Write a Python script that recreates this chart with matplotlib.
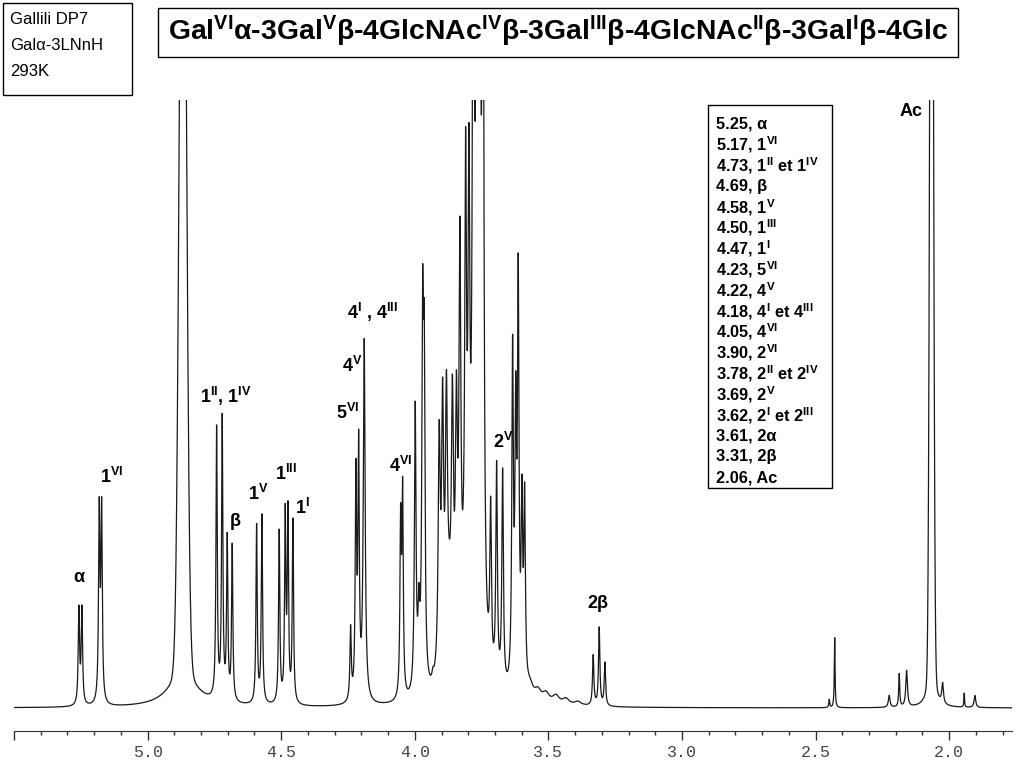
import numpy as np
import matplotlib.pyplot as plt
from matplotlib.patches import Rectangle
from matplotlib.ticker import MultipleLocator, FuncFormatter

plt.rcParams['font.family'] = ['Liberation Sans', 'DejaVu Sans']
plt.rcParams['mathtext.fontset'] = 'custom'
plt.rcParams['mathtext.rm'] = 'Liberation Sans'
plt.rcParams['mathtext.it'] = 'Liberation Sans:italic'
plt.rcParams['mathtext.bf'] = 'Liberation Sans:bold'

# resolved lines: shift (ppm), height, half width (ppm)
line_ppm = [5.2571, 5.2459, 5.1811, 5.1722,
            4.7418, 4.7208, 4.7021, 4.6834,
            4.5921, 4.5722, 4.5075, 4.4850, 4.4749, 4.4562,
            4.2403, 4.2204, 4.2103, 4.1894,
            4.0531, 4.0457, 3.9985, 3.9847, 3.9708, 3.9648, 3.9323,
            3.9087, 3.8960, 3.8817, 3.8593, 3.8443, 3.8312, 3.8099, 3.7975,
            3.7807, 3.7676, 3.7571, 3.7451,
            3.7163, 3.6939, 3.6714, 3.6340, 3.6224, 3.6130, 3.5992, 3.5891,
            3.5692, 3.5393, 3.5094, 3.4720, 3.4346, 3.3897,
            3.3324, 3.3099, 3.2886,
            2.4491, 2.4286, 2.2246, 2.1871, 2.1594, 2.0247, 1.9439, 1.9039,
            3.8000, 3.8720]
line_height = [95, 95, 190, 190,
               270, 280, 160, 155,
               178, 188, 172, 185, 187, 182,
               72, 220, 245, 360,
               170, 200, 285, 70, 345, 300, 8,
               230, 250, 240, 235, 225, 380, 415, 380,
               900, 1000, 900, 900,
               160, 215, 215, 330, 250, 395, 175, 185,
               12, 10, 9, 8, 6, 4,
               50, 78, 43,
               8, 70, 12, 33, 36, 20, 14, 12,
               90, 60]
line_width = [0.0030, 0.0030, 0.0030, 0.0030,
              0.0028, 0.0028, 0.0028, 0.0028,
              0.0028, 0.0028, 0.0028, 0.0028, 0.0028, 0.0028,
              0.0030, 0.0030, 0.0030, 0.0041,
              0.0030, 0.0030, 0.0035, 0.0040, 0.0035, 0.0035, 0.0040,
              0.0045, 0.0045, 0.0045, 0.0045, 0.0045, 0.0040, 0.0037, 0.0037,
              0.0037, 0.0037, 0.0037, 0.0037,
              0.0034, 0.0034, 0.0034, 0.0034, 0.0034, 0.0034, 0.0034, 0.0034,
              0.015, 0.015, 0.015, 0.015, 0.015, 0.015,
              0.0030, 0.0030, 0.0030,
              0.0019, 0.0017, 0.0037, 0.0022, 0.0037, 0.0037, 0.0015, 0.0037,
              0.030, 0.012]

# broad signals (HOD and N-acetyl methyl): shift, height, gaussian sigma, tail height, tail width
broad_ppm = [4.868, 2.066]
broad_height = [1000, 1200]
broad_sigma = [0.0124, 0.0060]
tail_height = [40, 60]
tail_width = [0.056, 0.0131]

# peak labels
label_text = [r'α', r'1$^{\mathbf{VI}}$', r'1$^{\mathbf{II}}$, 1$^{\mathbf{IV}}$', r'β',
              r'1$^{\mathbf{V}}$', r'1$^{\mathbf{III}}$', r'1$^{\mathbf{I}}$', r'5$^{\mathbf{VI}}$',
              r'4$^{\mathbf{V}}$', r'4$^{\mathbf{I}}$ , 4$^{\mathbf{III}}$', r'4$^{\mathbf{VI}}$',
              r'2$^{\mathbf{V}}$', r'2β', r'Ac']
label_ppm = [5.257, 5.134, 4.707, 4.673, 4.587, 4.482, 4.419, 4.250,
             4.235, 4.157, 4.052, 3.670, 3.315, 2.143]
label_y = [130, 231, 312, 186, 214, 234, 200, 295, 342, 396, 242, 266, 104, 596]

# assignment table
table_shift = [5.25, 5.17, 4.73, 4.69, 4.58, 4.50, 4.47, 4.23, 4.22, 4.18,
               4.05, 3.90, 3.78, 3.69, 3.62, 3.61, 3.31, 2.06]
table_assign = ['α', '1$^{\\mathbf{VI}}$', '1$^{\\mathbf{II}}$ et 1$^{\\mathbf{IV}}$', 'β',
                '1$^{\\mathbf{V}}$', '1$^{\\mathbf{III}}$', '1$^{\\mathbf{I}}$', '5$^{\\mathbf{VI}}$',
                '4$^{\\mathbf{V}}$', '4$^{\\mathbf{I}}$ et 4$^{\\mathbf{III}}$', '4$^{\\mathbf{VI}}$',
                '2$^{\\mathbf{VI}}$', '2$^{\\mathbf{II}}$ et 2$^{\\mathbf{IV}}$', '2$^{\\mathbf{V}}$',
                '2$^{\\mathbf{I}}$ et 2$^{\\mathbf{III}}$', '2α', '2β', 'Ac']

title = ('Gal$^{\\mathbf{VI}}$α-3Gal$^{\\mathbf{V}}$β-4GlcNAc$^{\\mathbf{IV}}$β-3Gal$^{\\mathbf{III}}$β-'
         '4GlcNAc$^{\\mathbf{II}}$β-3Gal$^{\\mathbf{I}}$β-4Glc')
info_lines = ['Gallili DP7', 'Galα-3LNnH', '293K']

# build spectrum from the line list
ppm = np.linspace(5.5, 1.765, 24000)
spec = np.zeros_like(ppm)
for c, h, w in zip(line_ppm, line_height, line_width):
    spec += h / (1 + ((ppm - c) / w) ** 2)
for c, h, s, th, tw in zip(broad_ppm, broad_height, broad_sigma, tail_height, tail_width):
    spec += h * np.exp(-0.5 * ((ppm - c) / s) ** 2) + th / (1 + ((ppm - c) / tw) ** 2)

W, H = 1024, 768
fig = plt.figure(figsize=(10.24, 7.68), dpi=100)
ax = fig.add_axes([14 / W, (H - 731) / H, (1012 - 14) / W, (731 - 100) / H])
ax.plot(ppm, spec, color='#1a1a1a', lw=0.9)
ax.set_xlim(5.5, 1.765)
ax.set_ylim(-23, 608)
for s in ['left', 'top', 'right']:
    ax.spines[s].set_visible(False)
ax.spines['bottom'].set_color('#333333')
ax.set_yticks([])
ax.xaxis.set_major_locator(MultipleLocator(0.5))
ax.xaxis.set_minor_locator(MultipleLocator(0.1))
ax.xaxis.set_major_formatter(FuncFormatter(lambda v, p: '' if v > 5.25 else '%.1f' % v))
ax.tick_params(axis='x', which='major', direction='out', length=6.3, width=1,
               color='#333333', pad=4, labelsize=12, labelcolor='#444444',
               labelfontfamily='Liberation Mono')
ax.tick_params(axis='x', which='minor', direction='out', length=2.7, width=1, color='#333333')

for t, x, y in zip(label_text, label_ppm, label_y):
    ax.text(x, y, t, ha='center', va='center', fontsize=13, fontweight='bold')

# assignment table box
fig.add_artist(Rectangle((708 / W, 1 - 488 / H), 124 / W, 383 / H, transform=fig.transFigure,
                         fill=False, edgecolor='black', lw=1))
for i, (s, a) in enumerate(zip(table_shift, table_assign)):
    fig.text(716 / W, 1 - (124 + i * 20.8) / H, '%.2f, %s' % (s, a), ha='left', va='center',
             fontsize=11.8, fontweight='bold')

# title box
fig.add_artist(Rectangle((158 / W, 1 - 57 / H), 800 / W, 49 / H, transform=fig.transFigure,
                         fill=False, edgecolor='black', lw=1))
fig.text(558 / W, 1 - 31 / H, title, ha='center', va='center', fontsize=20.4, fontweight='bold')

# sample info box
fig.add_artist(Rectangle((3 / W, 1 - 95 / H), 129 / W, 92 / H, transform=fig.transFigure,
                         fill=False, edgecolor='black', lw=1))
for i, t in enumerate(info_lines):
    fig.text(10 / W, 1 - (19 + i * 26) / H, t, ha='left', va='center', fontsize=12)

fig.savefig('out.png', dpi=100)
